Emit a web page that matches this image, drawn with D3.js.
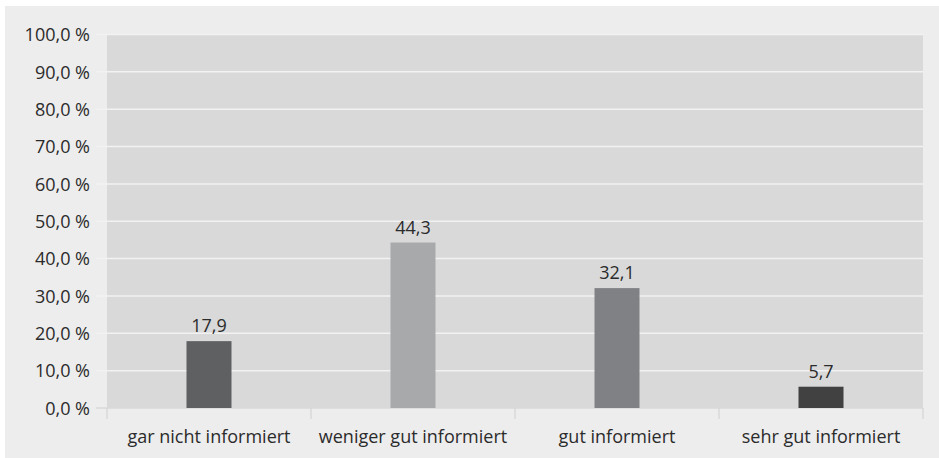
<!DOCTYPE html>
<html>
<head>
<meta charset="utf-8">
<script src="https://cdn.jsdelivr.net/npm/d3@7"></script>
<style>
  html, body { margin: 0; padding: 0; background: #ffffff; }
  svg { display: block; }
  text { font-family: "Open Sans", sans-serif; fill: #2b2b2b; }
</style>
</head>
<body>
<svg id="chart" width="939" height="458"></svg>
<script>
// Share of respondents by how well informed they feel (%)
const categories = ["gar nicht informiert", "weniger gut informiert", "gut informiert", "sehr gut informiert"];
const values = [17.9, 44.3, 32.1, 5.7];
const barColors = ["#5f6062", "#a8a9ab", "#808184", "#414142"];
const yTicks = [0, 10, 20, 30, 40, 50, 60, 70, 80, 90, 100];

const svg = d3.select("#chart");
const W = 939, H = 458;

// framed background
svg.append("rect").attr("x", 5).attr("y", 6).attr("width", W - 5).attr("height", H - 6)
  .attr("fill", "#ededed");

const plot = { left: 107, right: 923, top: 34.5, bottom: 408 };

const x = d3.scaleBand().domain(categories).range([plot.left, plot.right]).paddingInner(0).paddingOuter(0);
const y = d3.scaleLinear().domain([0, 100]).range([plot.bottom, plot.top]);

svg.append("rect")
  .attr("x", plot.left).attr("y", plot.top + 0.5)
  .attr("width", plot.right - plot.left).attr("height", plot.bottom - plot.top - 0.5)
  .attr("fill", "#d9d9da");

// gridlines with ticks reaching left past the plot
const grid = svg.append("g");
grid.selectAll("line").data(yTicks).join("line")
  .attr("x1", 96).attr("x2", plot.right)
  .attr("y1", d => y(d)).attr("y2", d => y(d))
  .attr("stroke", d => d === 0 ? "#d9d9d9" : "#f2f2f2").attr("stroke-width", 1.5);

// y axis labels
const fmt = d => d3.format(".1f")(d).replace(".", ",") + " %";
const yAxis = d3.axisLeft(y).tickValues(yTicks).tickFormat(fmt).tickSize(0).tickPadding(0);
const yg = svg.append("g").attr("transform", `translate(90,0)`).call(yAxis);
yg.select(".domain").remove();
yg.selectAll("text").style("font-size", "18px").attr("fill", "#2b2b2b").attr("dy", "0.35em");

// x axis: separators between categories and labels
const xg = svg.append("g");
const bounds = categories.map(c => x(c)).concat([plot.right]);
xg.selectAll("line").data(bounds).join("line")
  .attr("x1", d => d).attr("x2", d => d)
  .attr("y1", plot.bottom).attr("y2", plot.bottom + 11)
  .attr("stroke", "#d4d4d4").attr("stroke-width", 1.2);
const xAxis = d3.axisBottom(x).tickSize(0).tickPadding(0);
const xa = svg.append("g").attr("transform", `translate(0,${plot.bottom})`).call(xAxis);
xa.select(".domain").remove();
xa.selectAll("text").style("font-size", "18px").attr("fill", "#2b2b2b").attr("y", 35).attr("dy", "0");

// bars
const barW = 45;
svg.append("g").selectAll("rect").data(values).join("rect")
  .attr("x", (d, i) => x(categories[i]) + x.bandwidth() / 2 - barW / 2)
  .attr("y", d => y(d))
  .attr("width", barW)
  .attr("height", d => y(0) - y(d))
  .attr("fill", (d, i) => barColors[i]);

// value labels
svg.append("g").selectAll("text").data(values).join("text")
  .attr("x", (d, i) => x(categories[i]) + x.bandwidth() / 2)
  .attr("y", d => y(d) - 9)
  .attr("text-anchor", "middle")
  .style("font-size", "18px")
  .text(d => d3.format(".1f")(d).replace(".", ","));
</script>
</body>
</html>
